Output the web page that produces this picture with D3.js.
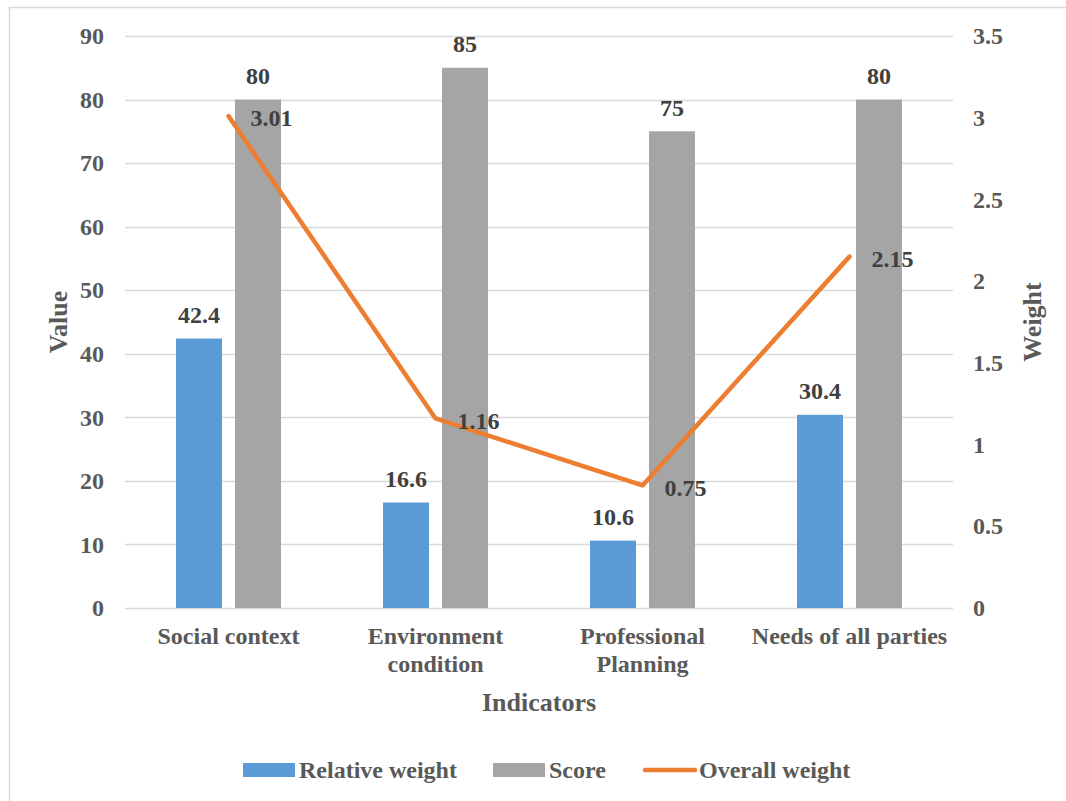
<!DOCTYPE html>
<html>
<head>
<meta charset="utf-8">
<script src="https://cdn.jsdelivr.net/npm/d3@7"></script>
<style>
  html, body { margin: 0; padding: 0; background: #fff; }
  svg text { font-family: "Liberation Serif", "DejaVu Serif", serif; font-weight: 700; }
</style>
</head>
<body>
<script>
// Indicator categories and the three series plotted for each
const categories = ["Social context", "Environment condition", "Professional Planning", "Needs of all parties"];
const categoryLines = [["Social context"], ["Environment", "condition"], ["Professional", "Planning"], ["Needs of all parties"]];
const relativeWeight = [42.4, 16.6, 10.6, 30.4];
const score = [80, 85, 75, 80];
const overallWeight = [3.01, 1.16, 0.75, 2.15];
const valueTicks = [0, 10, 20, 30, 40, 50, 60, 70, 80, 90];
const weightTicks = [0, 0.5, 1, 1.5, 2, 2.5, 3, 3.5];
const seriesNames = ["Relative weight", "Score", "Overall weight"];

const W = 1066, H = 801;
const plot = { left: 125, right: 953, top: 36, bottom: 608 };
const colors = { blue: "#5B9BD5", gray: "#A5A5A5", orange: "#ED7D31", grid: "#D9D9D9", axisText: "#595959", label: "#404040" };

const svg = d3.select("body").append("svg").attr("width", W).attr("height", H);

// outer chart frame
svg.append("rect")
  .attr("x", 9.5).attr("y", 7.5).attr("width", W).attr("height", H)
  .attr("fill", "#fff").attr("stroke", colors.grid).attr("stroke-width", 1.5);

const x = d3.scaleBand().domain(categories).range([plot.left, plot.right]).padding(0);
const xSeries = d3.scaleBand().domain(["rel", "score"]).range([-52.5, 52.5]).paddingInner(0.22);
const yL = d3.scaleLinear().domain([0, 90]).range([plot.bottom, plot.top]);
const yR = d3.scaleLinear().domain([0, 3.5]).range([plot.bottom, plot.top]);

// horizontal gridlines
svg.append("g").selectAll("line").data(valueTicks).join("line")
  .attr("x1", plot.left).attr("x2", plot.right)
  .attr("y1", d => Math.round(yL(d)) + 0.5).attr("y2", d => Math.round(yL(d)) + 0.5)
  .attr("stroke", colors.grid).attr("stroke-width", 1.5);

// left axis
const axisL = svg.append("g").attr("transform", `translate(${plot.left},0)`)
  .call(d3.axisLeft(yL).tickValues(valueTicks).tickSize(0).tickPadding(21).tickFormat(d3.format("d")));
axisL.attr("font-family", null).attr("font-size", null);
axisL.select(".domain").remove();
axisL.selectAll("text").attr("fill", colors.axisText).attr("font-size", 24);

// right axis
const axisR = svg.append("g").attr("transform", `translate(${plot.right},0)`)
  .call(d3.axisRight(yR).tickValues(weightTicks).tickSize(0).tickPadding(20).tickFormat(d => String(d)));
axisR.attr("font-family", null).attr("font-size", null);
axisR.select(".domain").remove();
axisR.selectAll("text").attr("fill", colors.axisText).attr("font-size", 24);

// bars
const cx = d => x(d) + x.bandwidth() / 2;
const barData = categories.flatMap((c, i) => [
  { c, key: "rel", v: relativeWeight[i], color: colors.blue },
  { c, key: "score", v: score[i], color: colors.gray }
]);
svg.append("g").selectAll("rect").data(barData).join("rect")
  .attr("x", d => cx(d.c) + xSeries(d.key))
  .attr("width", xSeries.bandwidth())
  .attr("y", d => yL(d.v))
  .attr("height", d => yL(0) - yL(d.v))
  .attr("fill", d => d.color);

// bar value labels
svg.append("g").selectAll("text").data(barData).join("text")
  .attr("x", d => cx(d.c) + xSeries(d.key) + xSeries.bandwidth() / 2)
  .attr("y", d => yL(d.v) - 24)
  .attr("dy", "0.35em")
  .attr("text-anchor", "middle")
  .attr("font-size", 24).attr("fill", colors.label)
  .text(d => d.v);

// overall weight line
const lineData = categories.map((c, i) => ({ c, v: overallWeight[i] }));
svg.append("path").datum(lineData)
  .attr("fill", "none").attr("stroke", colors.orange).attr("stroke-width", 4.5)
  .attr("stroke-linecap", "round").attr("stroke-linejoin", "round")
  .attr("d", d3.line().x(d => cx(d.c)).y(d => yR(d.v)));

svg.append("g").selectAll("text").data(lineData).join("text")
  .attr("x", d => cx(d.c) + 22)
  .attr("y", d => yR(d.v) + 2)
  .attr("dy", "0.35em")
  .attr("font-size", 24).attr("fill", colors.label)
  .text(d => d.v.toFixed(2));

// category labels
const catG = svg.append("g").selectAll("text").data(categories).join("text")
  .attr("x", d => cx(d)).attr("y", 644)
  .attr("text-anchor", "middle").attr("font-size", 24).attr("fill", colors.axisText);
catG.selectAll("tspan").data((d, i) => categoryLines[i]).join("tspan")
  .attr("x", function () { return d3.select(this.parentNode).attr("x"); })
  .attr("dy", (d, i) => i === 0 ? 0 : 28)
  .text(d => d);

// axis titles
svg.append("text").attr("x", (plot.left + plot.right) / 2).attr("y", 711)
  .attr("text-anchor", "middle").attr("font-size", 26).attr("fill", colors.axisText).text("Indicators");
svg.append("text").attr("transform", `translate(67,${(plot.top + plot.bottom) / 2}) rotate(-90)`)
  .attr("text-anchor", "middle").attr("font-size", 26).attr("fill", colors.axisText).text("Value");
svg.append("text").attr("transform", `translate(1041,${(plot.top + plot.bottom) / 2}) rotate(-90)`)
  .attr("text-anchor", "middle").attr("font-size", 26).attr("fill", colors.axisText).text("Weight");

// legend
const legendItems = [
  { name: seriesNames[0], type: "rect", color: colors.blue, x: 243 },
  { name: seriesNames[1], type: "rect", color: colors.gray, x: 493 },
  { name: seriesNames[2], type: "line", color: colors.orange, x: 643 }
];
const legendY = 770;
const lg = svg.append("g").selectAll("g").data(legendItems).join("g")
  .attr("transform", d => `translate(${d.x},${legendY})`);
lg.filter(d => d.type === "rect").append("rect")
  .attr("x", 0).attr("y", -7).attr("width", 52).attr("height", 14).attr("fill", d => d.color);
lg.filter(d => d.type === "line").append("line")
  .attr("x1", 2).attr("x2", 52).attr("y1", 0).attr("y2", 0)
  .attr("stroke", d => d.color).attr("stroke-width", 4.5).attr("stroke-linecap", "round");
lg.append("text").attr("x", 56).attr("y", 0).attr("dy", "0.35em")
  .attr("font-size", 24).attr("fill", colors.axisText).text(d => d.name);
</script>
</body>
</html>
